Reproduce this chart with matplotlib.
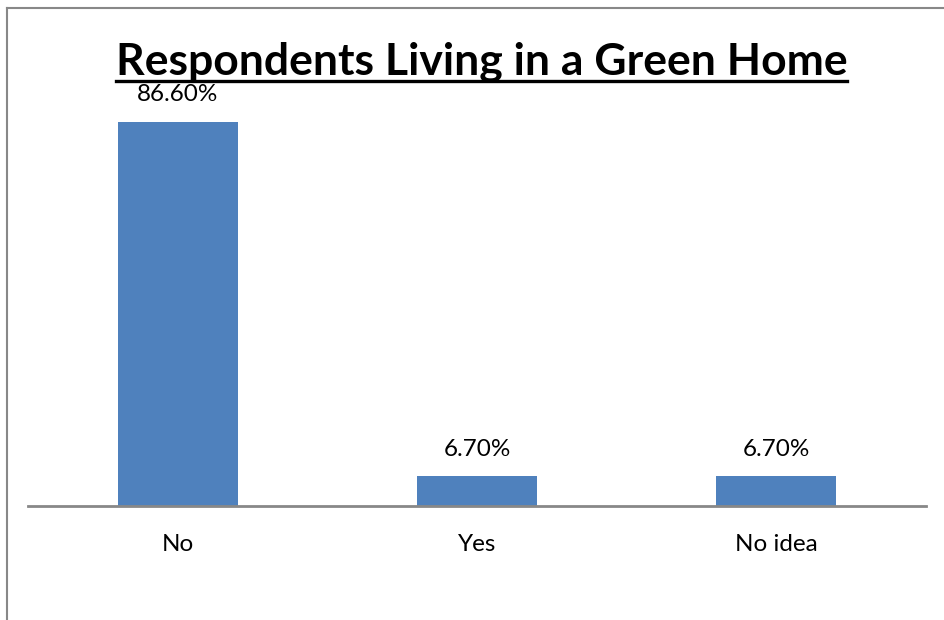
import matplotlib
matplotlib.use("Agg")
import matplotlib.pyplot as plt
from matplotlib.lines import Line2D

categories = ["No", "Yes", "No idea"]
values = [86.6, 6.7, 6.7]
labels = ["86.60%", "6.70%", "6.70%"]
title = "Respondents Living in a Green Home"

W, H = 945, 620
fig = plt.figure(figsize=(W / 100, H / 100), dpi=100)
fig.patch.set_facecolor("white")

ax = fig.add_axes([28 / W, 1 - 506 / H, (926 - 28) / W, (506 - 107) / H])
x = list(range(len(categories)))
ax.bar(x, values, width=0.4, color="#4F81BD")
ax.set_xlim(-0.5, len(categories) - 0.5)
ax.set_ylim(0, 90)
for s in ["top", "right", "left"]:
    ax.spines[s].set_visible(False)
ax.spines["bottom"].set_color("#888888")
ax.spines["bottom"].set_linewidth(2)
ax.set_yticks([])
ax.set_xticks(x)
ax.set_xticklabels(categories, fontsize=17.5, family="Lato")
ax.tick_params(axis="x", length=0, pad=20)

for xi, v, lab in zip(x, values, labels):
    ax.annotate(lab, (xi, v), xytext=(0, 12), textcoords="offset points",
                ha="center", va="bottom", fontsize=17.5, family="Lato")

t = fig.text(0.5 * (117 + 846) / W, 1 - 75 / H, title, ha="center", va="baseline",
             fontsize=32, fontweight="bold", family="Lato")
fig.canvas.draw()
bb = t.get_window_extent()
uy = 1 - 81 / H
fig.add_artist(Line2D([bb.x0 / W, bb.x1 / W], [uy, uy], color="black", lw=2.4,
                      transform=fig.transFigure))

# outer border (left and top)
fig.add_artist(Line2D([7.5 / W, 7.5 / W], [0, 1 - 8 / H], color="#888888", lw=1.5,
                      transform=fig.transFigure))
fig.add_artist(Line2D([7.5 / W, 1], [1 - 8 / H, 1 - 8 / H], color="#888888", lw=1.5,
                      transform=fig.transFigure))

fig.savefig("out.png", dpi=100)
